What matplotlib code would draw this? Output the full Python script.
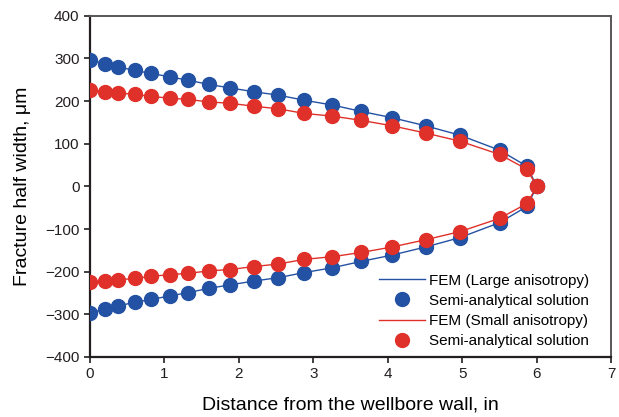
import matplotlib
matplotlib.use('Agg')
from matplotlib import pyplot as plt

plt.rcParams['font.family'] = ['Liberation Sans', 'DejaVu Sans']

# distance from the wellbore wall (in)
x = [0, 0.2, 0.38, 0.6, 0.82, 1.07, 1.32, 1.6, 1.88, 2.2, 2.53, 2.88,
     3.25, 3.64, 4.06, 4.51, 4.97, 5.5, 5.87, 6.0]

# fracture half width (um), upper branch
w_large = [296, 288, 280, 272, 265, 257, 249, 239, 231, 222, 214, 202,
           191, 176, 161, 142, 120, 85, 47, 0]
w_small = [225, 221, 219, 216, 211, 207, 204, 198, 195, 188, 182, 171,
           165, 155, 142, 125, 106, 75, 40, 0]

blue = '#2351a3'
red = '#e0302a'

fig = plt.figure(figsize=(6.19, 4.17), dpi=100)
ax = fig.add_axes([0.1454, 0.144, 0.842, 0.818])

low_large = [-v for v in w_large]
low_small = [-v for v in w_small]

# full crack profile: upper branch then lower branch
ax.plot(x + x[::-1], w_large + low_large[::-1], color=blue, lw=1.0,
        label='FEM (Large anisotropy)', zorder=2)
ax.plot(x + x, w_large + low_large, 'o', color=blue, ms=10,
        label='Semi-analytical solution', zorder=3)
ax.plot(x + x[::-1], w_small + low_small[::-1], color=red, lw=1.0,
        label='FEM (Small anisotropy)', zorder=4)
ax.plot(x + x, w_small + low_small, 'o', color=red, ms=10,
        label='Semi-analytical solution', zorder=5)

ax.set_xlim(0, 7)
ax.set_ylim(-400, 400)
ax.set_xticks(range(0, 8))
ax.set_yticks(range(-400, 401, 100))
ax.set_yticklabels([str(v).replace('-', '\u2212') for v in range(-400, 401, 100)])

ax.set_xlabel('Distance from the wellbore wall, in', fontsize=14, labelpad=11)
ax.set_ylabel('Fracture half width, \u03bcm', fontsize=14, labelpad=10)

for s in ['left', 'bottom']:
    ax.spines[s].set_color('#231f20')
    ax.spines[s].set_linewidth(1.6)
for s in ['top', 'right']:
    ax.spines[s].set_color('#5a5556')
    ax.spines[s].set_linewidth(1.4)
ax.tick_params(direction='out', length=4, width=1.2, labelsize=11,
               colors='#231f20', top=False, right=False)

ax.legend(loc='lower right', bbox_to_anchor=(0.979, -0.005), frameon=False,
          fontsize=11, handlelength=3.0, handletextpad=0.3, labelspacing=0.4,
          borderaxespad=0.3)

fig.savefig('out.png', dpi=100)
